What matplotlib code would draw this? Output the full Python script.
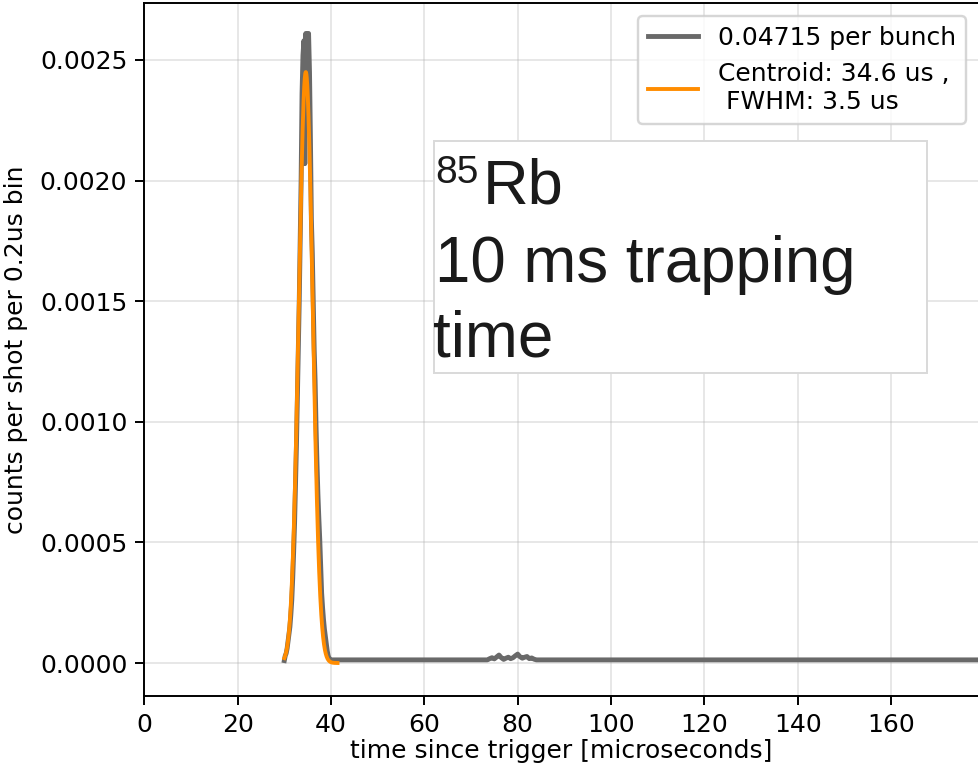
import numpy as np
import matplotlib
matplotlib.use("Agg")
import matplotlib.pyplot as plt
from matplotlib.patches import Rectangle

# ---- data ----
peak_t = [30.0, 30.2, 30.4, 30.6, 30.8, 31.0, 31.2, 31.4, 31.6, 31.8,
          32.0, 32.2, 32.4, 32.6, 32.8, 33.0, 33.2, 33.4, 33.6, 33.8,
          34.0, 34.2, 34.4, 34.6, 34.8, 35.0, 35.2, 35.4, 35.6, 35.8,
          36.0, 36.2, 36.4, 36.6, 36.8, 37.0, 37.2, 37.4, 37.6, 37.8,
          38.0, 38.2, 38.4, 38.6, 38.8, 39.0, 39.2, 39.4, 39.6, 39.8, 40.0]
peak_v = [0.000010, 0.000030, 0.000040, 0.000060, 0.000090, 0.000120, 0.000150, 0.000200, 0.000260, 0.000350,
          0.000460, 0.000580, 0.000740, 0.000900, 0.001100, 0.001300, 0.001500, 0.001750, 0.002000, 0.002360,
          0.002520, 0.002580, 0.002070, 0.002610, 0.002540, 0.002610, 0.002610, 0.002450, 0.002170, 0.001840,
          0.001700, 0.001500, 0.001300, 0.001170, 0.000980, 0.000830, 0.000700, 0.000600, 0.000510, 0.000400,
          0.000290, 0.000230, 0.000180, 0.000140, 0.000110, 0.000080, 0.000050, 0.000030, 0.000020, 0.000015, 0.000013]
bump_t = [73.5, 74.0, 74.5, 75.0, 75.5, 76.0, 76.5, 77.0, 77.5, 78.0, 78.5,
          79.0, 79.5, 80.0, 80.5, 81.0, 81.5, 82.0, 82.5, 83.0, 83.5, 84.0]
bump_v = [0.000013, 0.000018, 0.000022, 0.000017, 0.000025, 0.000033, 0.000022, 0.000015, 0.000020, 0.000024, 0.000018,
          0.000022, 0.000030, 0.000037, 0.000026, 0.000020, 0.000024, 0.000027, 0.000018, 0.000021, 0.000016, 0.000013]
tail_t = [180.0]
tail_v = [0.000013]

# Gaussian fit parameters (from legend)
fit_amp = 0.00245
fit_centroid = 34.6
fit_fwhm = 3.5
fit_range = (30.0, 41.4)

legend_data = "0.04715 per bunch"
legend_fit = "Centroid: 34.6 us ,\n FWHM: 3.5 us"

xticks = [0, 20, 40, 60, 80, 100, 120, 140, 160]
yticks = [0.0, 0.0005, 0.0010, 0.0015, 0.0020, 0.0025]

plt.rcParams["font.size"] = 10.3

# ---- figure ----
W, H, DPI = 978, 767, 175
fig = plt.figure(figsize=(W / DPI, H / DPI), dpi=DPI)
left_px, right_px, top_px, bottom_px = 144.3, 978.5, 3.3, 695.5
ax = fig.add_axes([left_px / W, 1 - bottom_px / H,
                   (right_px - left_px) / W, (bottom_px - top_px) / H])

t = np.array(peak_t + bump_t + tail_t)
v = np.array(peak_v + bump_v + tail_v)
ax.plot(t, v, color="dimgray", lw=2.0, label=legend_data)

sigma = fit_fwhm / (2 * np.sqrt(2 * np.log(2)))
tf = np.linspace(fit_range[0], fit_range[1], 300)
ax.plot(tf, fit_amp * np.exp(-(tf - fit_centroid) ** 2 / (2 * sigma ** 2)),
        color="darkorange", lw=1.6, label=legend_fit)

ax.set_xlim(0, (right_px - left_px) / 4.667)
ax.set_ylim(-0.0001347, 0.002735)
ax.set_xticks(xticks)
ax.set_yticks(yticks)
ax.grid(True, alpha=0.3)
ax.set_xlabel("time since trigger [microseconds]", labelpad=1.0)
ax.set_ylabel("counts per shot per 0.2us bin", labelpad=5)
ax.legend(loc="upper right")

# text box overlay
def fx(px):
    return px / W

def fy(py):
    return 1 - py / H

fig.patches.append(Rectangle((fx(433.5), fy(372.7)), fx(927) - fx(433.5), fy(140.7) - fy(372.7),
                             transform=fig.transFigure, facecolor="white",
                             edgecolor="#d9d9d9", lw=0.8, zorder=5))
tkw = dict(transform=fig.transFigure, family="Liberation Sans", color="#1a1a1a",
           va="baseline", ha="left", zorder=6)
fig.text(fx(435.5), fy(183), "85", fontsize=16, **tkw)
fig.text(fx(483), fy(203), "Rb", fontsize=26, **tkw)
fig.text(fx(435), fy(282), "10 ms trapping", fontsize=26.2, **tkw)
fig.text(fx(433), fy(357), "time", fontsize=26.2, **tkw)

fig.savefig("out.png", dpi=DPI)
